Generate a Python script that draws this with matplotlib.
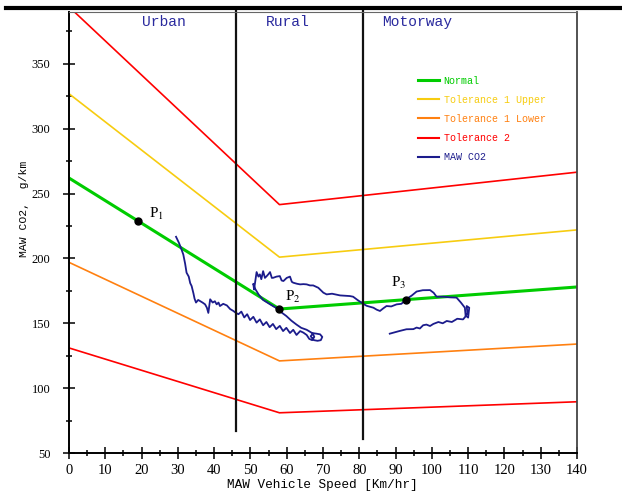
import numpy as np
import matplotlib.pyplot as plt
from matplotlib.lines import Line2D
from matplotlib.ticker import MultipleLocator

plt.rcParams['mathtext.fontset'] = 'stix'

# limit curves: speed breakpoints and CO2 values
speed = [0, 58, 140]
normal = [262, 161, 178]
tol1_upper = [327, 201, 222]
tol1_lower = [197, 121, 134]
tol2_upper = [394, 241.5, 266.5]
tol2_lower = [131, 81, 89.5]

# MAW CO2 trace
maw_speed = [29.5, 30.3, 31.0, 31.5, 32.0, 32.4, 33.0, 33.4, 33.8, 34.3, 34.6, 35.0,
             35.6, 36.1, 36.8, 37.5, 38.0, 38.4, 38.7, 38.9, 39.6, 40.2, 40.7, 41.2,
             41.6, 42.5, 43.5, 44.4, 45.3, 46.0, 46.7, 47.5, 48.3, 49.1, 49.9, 50.8,
             51.7, 52.6, 53.5, 54.4, 55.3, 56.2, 57.1, 58.1, 59.0, 59.9, 60.9, 61.8,
             62.7, 63.7, 64.6, 65.5, 66.2, 67.0, 67.6, 67.2, 66.6, 67.5, 68.5, 69.4,
             69.8, 69.2, 68.2, 67.0, 65.5, 64.0, 62.7, 61.3, 59.9, 58.5, 57.0, 55.5,
             53.5, 52.3, 51.2, 50.8, 51.0, 51.4, 51.7, 52.2, 52.6, 53.0, 53.5, 54.0,
             54.5, 55.0, 55.4, 55.9, 56.3, 57.2, 58.1, 58.6, 59.1, 60.0, 60.9, 61.4,
             61.8, 62.8, 63.7, 64.6, 65.5, 66.4, 67.3, 68.7, 70.1, 71.0, 72.5, 74.7,
             77.4, 78.3, 79.5, 80.6, 82.0, 83.9, 84.8, 85.7, 86.6, 87.5, 88.8, 90.3,
             91.6, 93.0, 94.5, 95.8, 97.5, 99.5, 100.5, 101.3, 103.2, 105.0, 106.8, 108.0,
             109.1, 109.3, 110.0, 110.3, 109.6, 109.8, 109.2, 108.6, 107.0, 105.5, 104.1, 103.0,
             101.8, 100.4, 99.5, 98.5, 97.6, 96.7, 95.8, 94.9, 93.0, 91.0, 88.4]
maw_co2 = [216.7, 212, 207, 203, 196, 189, 186, 181, 178.7, 173, 169, 166,
           168, 167.2, 166, 164.6, 162, 158, 164, 168.5, 166, 167, 164.6, 166,
           163.3, 165, 163.8, 161, 159.5, 158, 157, 159, 154.5, 157, 152.5, 155,
           150.5, 153, 148.5, 151, 147, 149.5, 145.5, 148, 144, 146.5, 142.5, 145,
           141, 144, 142.8, 141, 138, 137, 139.5, 142, 140, 137, 136.5, 137,
           139.5, 141.5, 142, 142.5, 145, 146.5, 149, 152, 155.6, 158.5, 162, 164.5,
           168, 172, 177, 180.5, 176, 184, 189.5, 186, 187.7, 184, 190.2, 185,
           186.4, 188, 189.5, 185, 185.1, 186, 186.4, 183, 182.6, 185, 186, 182,
           181.3, 180.5, 180, 180.2, 180, 179.2, 179.2, 177.4, 173.6, 172.3, 172.8, 171.5,
           171, 170.5, 168, 165.9, 163.5, 162, 160.5, 159.5, 161.5, 163.3, 163, 164.6,
           165, 168.6, 171.5, 174.5, 175.5, 175.6, 173.5, 170.5, 170.5, 170, 169.8, 166,
           162, 156, 154.4, 162, 163.3, 158, 155, 153, 153.5, 151, 151.8, 150,
           151, 149.5, 147.9, 149, 148.5, 146, 146.7, 145.5, 145.4, 144, 142]

# reference points
p_speed = [19, 58, 93]
p_co2 = [229, 161, 168]
p_names = [r'P$_1$', r'P$_2$', r'P$_3$']
p_label_pos = [(22.0, 234), (59.5, 170), (88.7, 181)]

# phase boundaries
bounds = [46, 81]
bound_bottom = [67, 61]
phases = ['Urban', 'Rural', 'Motorway']
phase_x = [26.2, 60.3, 95.9]

c_green = '#00cc00'
c_yellow = '#f7cc10'
c_orange = '#ff8010'
c_red = '#ff0000'
c_blue = '#1c1c8c'

fig = plt.figure(figsize=(6.22, 4.94), dpi=100)
ax = fig.add_axes([69 / 622, 1 - 453 / 494, 508 / 622, 441 / 494])

ax.plot(speed, tol2_upper, color=c_red, lw=1.2, label='Tolerance 2')
ax.plot(speed, tol1_upper, color=c_yellow, lw=1.2, label='Tolerance 1 Upper')
ax.plot(speed, tol1_lower, color=c_orange, lw=1.2, label='Tolerance 1 Lower')
ax.plot(speed, tol2_lower, color=c_red, lw=1.2)
ax.plot(speed, normal, color=c_green, lw=2.2, label='Normal')
ax.plot(maw_speed, maw_co2, color=c_blue, lw=1.3, label='MAW CO2')

for b, bot in zip(bounds, bound_bottom):
    ax.plot([b, b], [bot, 392], color='#111111', lw=1.6, clip_on=False)

ax.plot(p_speed, p_co2, 'o', color='black', ms=5, zorder=5)
for name, (lx, ly) in zip(p_names, p_label_pos):
    ax.text(lx, ly, name, fontsize=11, family='Liberation Serif', va='center', ha='left')

for name, px in zip(phases, phase_x):
    ax.text(px, 382.5, name, fontsize=10.5, family='Liberation Mono',
            color='#2a2a9e', ha='center', va='center')

ax.set_xlim(0, 140)
ax.set_ylim(50, 390)
ax.xaxis.set_major_locator(MultipleLocator(10))
ax.xaxis.set_minor_locator(MultipleLocator(5))
ax.yaxis.set_major_locator(MultipleLocator(50))
ax.yaxis.set_minor_locator(MultipleLocator(25))
ax.tick_params(which='major', direction='inout', length=8.5, width=1.1)
ax.tick_params(which='minor', direction='inout', length=5, width=1.1)
ax.tick_params(axis='x', which='major', pad=3.5, labelsize=10.5)
ax.tick_params(axis='y', which='major', pad=9, labelsize=9)
for lab in ax.get_xticklabels() + ax.get_yticklabels():
    lab.set_family('Liberation Serif')

for s in ['left', 'bottom']:
    ax.spines[s].set_linewidth(1.4)
ax.spines['right'].set_color('#444444')
ax.spines['right'].set_linewidth(1.3)
ax.spines['top'].set_color('#666666')
ax.spines['top'].set_linewidth(0.8)

ax.set_xlabel('MAW Vehicle Speed [Km/hr]', fontsize=9.2, family='Liberation Mono')
ax.xaxis.set_label_coords((322.5 - 69) / 508, -(485 - 453) / 441)
ax.xaxis.label.set_va('center')
ax.set_ylabel('MAW CO2,  g/km', fontsize=8.2, family='Liberation Mono')
ax.yaxis.set_label_coords((24 - 69) / 508, (453 - 209) / 441)
ax.yaxis.label.set_va('center')

handles = [Line2D([], [], color=c_green, lw=2.2),
           Line2D([], [], color=c_yellow, lw=1.5),
           Line2D([], [], color=c_orange, lw=1.5),
           Line2D([], [], color=c_red, lw=1.5),
           Line2D([], [], color=c_blue, lw=1.5)]
labels = ['Normal', 'Tolerance 1 Upper', 'Tolerance 1 Lower', 'Tolerance 2', 'MAW CO2']
leg = fig.legend(handles, labels, loc='upper left', bbox_to_anchor=(418 / 622, 1 - 75.5 / 494),
                 frameon=False, borderpad=0, borderaxespad=0, handlelength=2.06,
                 handletextpad=0.5, labelspacing=0.92,
                 prop={'family': 'Liberation Mono', 'size': 7.2},
                 labelcolor='linecolor')

# thick rule across the top
fig.add_artist(Line2D([6 / 622, 1.0], [1 - 8 / 494, 1 - 8 / 494], color='black', lw=3,
                      transform=fig.transFigure))

fig.savefig('out.png', dpi=100)
